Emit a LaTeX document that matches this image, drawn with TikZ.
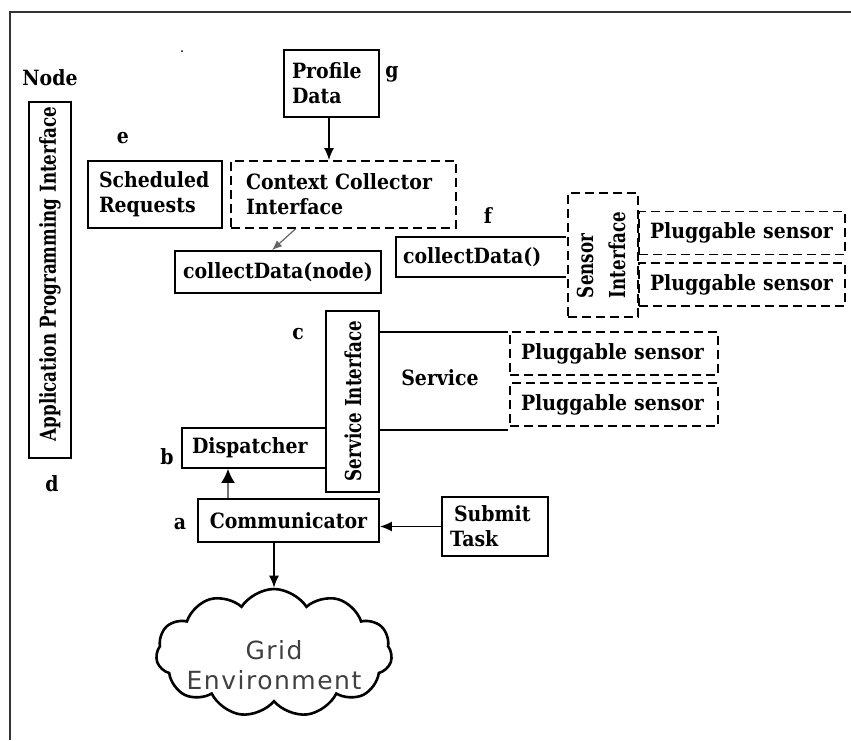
\documentclass[tikz,border=0pt]{standalone}
\usepackage{fontspec}
\setmainfont{DejaVu Serif}[FakeStretch=0.9]
\newfontfamily\narrowserif{DejaVu Serif}[FakeStretch=0.76]
\newfontfamily\cloudfont{DejaVu Sans}[LetterSpace=6]
\usetikzlibrary{shapes.symbols,arrows.meta}
\begin{document}
\begin{tikzpicture}[x=1pt,y=-1pt,
  txt/.style={font=\bfseries\fontsize{21}{25}\selectfont},
  lbl/.style={txt, inner sep=0pt},
  box/.style={draw, line width=1.8pt, rectangle, inner sep=0pt, txt},
  dbox/.style={box, dash pattern=on 9pt off 5pt},
  vtext/.style={font=\narrowserif\bfseries\fontsize{22}{32}\selectfont},
  arr/.style={line width=1.6pt, -{Latex[length=12pt,width=10pt]}},
  garr/.style={line width=1.6pt, draw=black!55, -{Latex[length=14pt,width=14pt,color=black]}},
  pluggable/.style={dbox, minimum width=#1, minimum height=43pt, text width=#1-22pt, align=left},
]
\useasboundingbox (0,0) rectangle (851,740);

% outer frame
\draw[line width=2pt, black!80] (10,740) -- (10,12) -- (851,12);
\fill (182,51) circle (1pt);

% labels
\node[lbl] (nodelbl) at (50,78) {Node};
\node[lbl] (la) at (180,524) {a};
\node[lbl] (lb) at (167,457) {b};
\node[lbl] (lc) at (298,334) {c};
\node[lbl] (ld) at (52,484) {d};
\node[lbl] (le) at (123,138) {e};
\node[lbl] (lf) at (488,216) {f};
\node[lbl] (lg) at (392,74) {g};

% application programming interface
\node[box, minimum width=42pt, minimum height=356pt] (api) at (50,280) {};
\node[vtext, rotate=90, inner sep=0pt] (apitext) at (50,274) {Application Programming Interface};

% top row
\node[box, minimum width=95pt, minimum height=67pt, text width=79pt, align=left] (profile) at (331.5,83.5) {Profile\\Data};
\node[box, minimum width=134pt, minimum height=67pt, text width=112pt, align=left] (sched) at (155,194.5) {Scheduled\\Requests};
\node[dbox, minimum width=225pt, minimum height=67pt, text width=195pt, align=left] (ctx) at (343.5,194.5) {Context Collector\\Interface};
\node[box, minimum width=206pt, minimum height=42pt] (cdnode) at (278,272) {collectData(node)};

% sensor side
\node[txt, minimum width=170pt, minimum height=40pt, inner sep=0pt, text width=156pt, align=left] (cd) at (481,257) {collectData()};
\draw[line width=1.8pt] (cd.north east) -- (cd.north west) -- (cd.south west) -- (cd.south east);
\node[dbox, minimum width=70pt, minimum height=124pt] (sens) at (603,255) {};
\node[vtext, rotate=90, align=left, inner sep=0pt] (senstext) at (601,255) {Sensor\\Interface};
\node[pluggable=206pt] (ps1) at (742,233) {Pluggable sensor};
\node[pluggable=206pt] (ps2) at (742,284.5) {Pluggable sensor};

% service side
\node[box, minimum width=53pt, minimum height=181pt] (svc) at (352.5,401.5) {};
\node[vtext, rotate=90, inner sep=0pt] (svctext) at (353,401) {Service Interface};
\node[box, minimum width=144pt, minimum height=40pt, text width=124pt, align=left] (disp) at (254,448) {Dispatcher};
\coordinate (s1) at (508,332);
\coordinate (s2) at (508,430);
\draw[line width=1.5pt] (svc.east |- s1) -- (s1);
\draw[line width=1.5pt] (svc.east |- s2) -- (s2);
\node[txt, inner sep=0pt] (service) at (440,378) {Service};
\node[pluggable=208pt] (ps3) at (614,353.5) {Pluggable sensor};
\node[pluggable=208pt] (ps4) at (614,404.5) {Pluggable sensor};

% bottom
\node[box, minimum width=181pt, minimum height=43pt] (comm) at (288.5,520.5) {Communicator};
\node[box, minimum width=106pt, minimum height=59pt, text width=90pt, align=left] (submit) at (495,526.5) {\hspace*{4pt}Submit\\Task};
\node[cloud, draw, line width=2.6pt, cloud puffs=11, cloud puff arc=115, aspect=1.9,
      minimum width=236pt, minimum height=128pt, inner sep=0pt] (cloud) at (274,653) {};
\node[font=\cloudfont\fontsize{25}{30}\selectfont, text=black!75, align=center, inner sep=0pt] (cloudtext) at (274,665) {Grid\\Environment};

% connectors
\draw[arr] (profile.south -| 329,0) -- (ctx.north -| 329,0);
\draw[line width=1.2pt, draw=black!60, -{Latex[length=10pt,width=8pt]}] ([xshift=-48pt]ctx.south) -- ([xshift=-6pt]cdnode.north);
\draw[garr] (comm.north -| 228,0) -- (disp.south -| 228,0);
\draw[arr] (submit.west) -- (submit.west -| comm.east);
\draw[arr] (cloud.north |- comm.south) -- (cloud.north);
\end{tikzpicture}
\end{document}
